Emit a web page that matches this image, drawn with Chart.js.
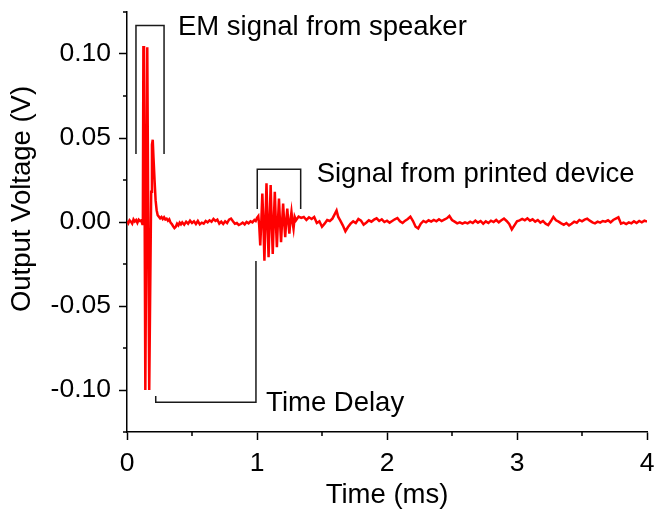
<!DOCTYPE html>
<html>
<head>
<meta charset="utf-8">
<script src="https://cdn.jsdelivr.net/npm/chart.js@4.4.0/dist/chart.umd.min.js"></script>
<style>
  html, body { margin: 0; padding: 0; background: #fff; }
  #wrap { width: 654px; height: 516px; }
</style>
</head>
<body>
<div id="wrap"><canvas id="chart" width="654" height="516"></canvas></div>
<script>
// axis ticks
const xTickLabels = [0, 1, 2, 3, 4];
const yTickLabels = [-0.10, -0.05, 0.00, 0.05, 0.10];
const xMinorTicks = [0.5, 1.5, 2.5, 3.5];
const yMinorTicks = [-0.125, -0.075, -0.025, 0.025, 0.075, 0.125];

// trace, time in ms / output in V
// before the trigger
const preTime = [0.000, 0.010, 0.020, 0.030, 0.040, 0.050, 0.060, 0.070, 0.080, 0.090, 0.100, 0.110, 0.118, 0.122];
const preVolt = [0.0005, -0.0008, 0.0010, 0.0002, -0.0010, 0.0015, 0.0003, 0.0012, -0.0005, 0.0014, 0.0006, 0.0010, -0.0012, 0.0005];

// EM pickup from the speaker (clipped)
const emTime = [0.126, 0.131, 0.141, 0.146, 0.156, 0.161, 0.171, 0.176, 0.186, 0.192, 0.198, 0.204, 0.212, 0.220, 0.228, 0.236, 0.245, 0.255, 0.265, 0.275, 0.285, 0.295, 0.305, 0.315, 0.325, 0.335];
const emVolt = [0.104, 0.104, -0.100, -0.100, 0.104, 0.104, -0.100, -0.100, 0.018, 0.046, 0.049, 0.038, 0.025, 0.013, 0.007, 0.004, 0.0032, 0.0022, 0.0030, 0.0018, 0.0028, 0.0015, 0.0020, 0.0008, 0.0016, -0.0004];

// quiet part until the acoustic wave arrives
const gapTime = [0.345, 0.355, 0.365, 0.375, 0.385, 0.395, 0.405, 0.415, 0.425, 0.440, 0.455, 0.470, 0.485, 0.500, 0.515, 0.530, 0.545, 0.560, 0.575, 0.590, 0.605, 0.620, 0.635, 0.650, 0.665, 0.680, 0.695, 0.710, 0.725, 0.740, 0.755, 0.770, 0.785, 0.800, 0.815, 0.830, 0.845, 0.860, 0.875, 0.890, 0.905, 0.920, 0.935, 0.950, 0.965, 0.980, 0.990, 1.000, 1.010, 1.017];
const gapVolt = [-0.0012, -0.0025, -0.0036, -0.0028, -0.0010, -0.0020, -0.0004, -0.0014, -0.0002, -0.0016, 0.0002, -0.0010, 0.0008, -0.0006, 0.0004, -0.0012, 0.0006, -0.0014, -0.0004, -0.0010, 0.0006, -0.0002, 0.0010, 0.0002, 0.0018, 0.0006, 0.0014, -0.0010, 0.0002, -0.0012, 0.0004, -0.0006, 0.0014, 0.0020, 0.0004, -0.0010, -0.0006, -0.0018, -0.0012, -0.0004, -0.0014, 0.0000, -0.0008, 0.0004, -0.0002, 0.0012, 0.0006, 0.0024, 0.0035, -0.0020];

// ringing from the printed device
const echoTime = [1.025, 1.033, 1.041, 1.049, 1.057, 1.065, 1.073, 1.081, 1.089, 1.097, 1.105, 1.113, 1.121, 1.129, 1.137, 1.145, 1.153, 1.161, 1.169, 1.177, 1.185, 1.193, 1.201, 1.209, 1.217, 1.225, 1.233, 1.241, 1.249, 1.257, 1.265, 1.273, 1.281, 1.290];
const echoVolt = [-0.014, 0.000, 0.017, 0.000, -0.023, 0.000, 0.023, 0.000, -0.021, 0.000, 0.022, 0.000, -0.019, 0.000, 0.018, 0.000, -0.015, 0.000, 0.014, 0.000, -0.012, 0.000, 0.011, 0.000, -0.009, 0.001, 0.008, 0.000, -0.007, 0.001, 0.006, 0.000, -0.004, 0.003];

// tail, noise only
const tail1Time = [1.300, 1.320, 1.340, 1.360, 1.380, 1.400, 1.420, 1.440, 1.460, 1.480, 1.500, 1.520, 1.540, 1.560, 1.580, 1.600, 1.612, 1.625, 1.640, 1.660, 1.680, 1.700, 1.720, 1.740, 1.760, 1.780, 1.800, 1.820, 1.840, 1.860, 1.880, 1.900, 1.920, 1.940, 1.960, 1.980, 2.000];
const tail1Volt = [0.0010, 0.0032, 0.0024, 0.0030, 0.0012, 0.0028, 0.0018, 0.0030, -0.0006, 0.0004, -0.0028, -0.0010, 0.0012, 0.0006, 0.0020, 0.0050, 0.0068, 0.0030, 0.0010, -0.0020, -0.0055, -0.0030, -0.0010, 0.0004, -0.0006, 0.0018, 0.0008, -0.0016, -0.0004, 0.0010, 0.0002, 0.0014, 0.0022, 0.0006, 0.0016, 0.0000, 0.0008];

const tail2Time = [2.020, 2.040, 2.060, 2.080, 2.100, 2.120, 2.140, 2.160, 2.180, 2.200, 2.220, 2.240, 2.260, 2.280, 2.300, 2.320, 2.340, 2.360, 2.380, 2.400, 2.420, 2.440, 2.460, 2.480, 2.500, 2.520, 2.540, 2.560, 2.580, 2.600, 2.620, 2.640, 2.660, 2.680, 2.700, 2.720, 2.740, 2.760, 2.780, 2.800, 2.820, 2.840, 2.860, 2.880, 2.900, 2.920, 2.940, 2.960, 2.980, 3.000];
const tail2Volt = [-0.0004, 0.0006, 0.0016, 0.0024, 0.0004, -0.0006, 0.0008, 0.0018, 0.0032, 0.0006, -0.0028, -0.0038, -0.0010, 0.0006, -0.0002, 0.0010, 0.0002, 0.0012, 0.0004, 0.0016, 0.0006, 0.0014, 0.0022, 0.0036, 0.0012, 0.0002, -0.0008, -0.0002, -0.0010, -0.0002, -0.0008, 0.0002, -0.0006, 0.0008, -0.0004, 0.0006, -0.0010, 0.0004, -0.0006, 0.0008, 0.0000, 0.0012, -0.0002, 0.0010, 0.0020, 0.0006, -0.0012, -0.0044, -0.0020, 0.0004];

const tail3Time = [3.020, 3.040, 3.060, 3.080, 3.100, 3.120, 3.140, 3.160, 3.180, 3.200, 3.220, 3.240, 3.260, 3.280, 3.300, 3.320, 3.340, 3.360, 3.380, 3.400, 3.420, 3.440, 3.460, 3.480, 3.500, 3.520, 3.540, 3.560, 3.580, 3.600, 3.620, 3.640, 3.660, 3.680, 3.700, 3.720, 3.740, 3.760, 3.780, 3.800, 3.820, 3.840, 3.860, 3.880, 3.900, 3.920, 3.940, 3.960, 3.980, 4.000];
const tail3Volt = [0.0010, 0.0018, 0.0010, 0.0022, 0.0008, 0.0016, 0.0002, 0.0012, -0.0004, 0.0006, -0.0010, -0.0018, 0.0004, 0.0030, 0.0010, 0.0002, -0.0008, -0.0016, -0.0006, -0.0020, -0.0010, 0.0002, -0.0004, 0.0012, 0.0004, 0.0014, 0.0020, 0.0008, -0.0002, -0.0008, 0.0002, -0.0004, 0.0006, 0.0002, 0.0010, -0.0002, 0.0012, 0.0020, 0.0028, -0.0010, -0.0004, -0.0012, -0.0002, -0.0008, 0.0004, -0.0006, 0.0006, -0.0002, 0.0008, 0.0002];

const segments = [
  [preTime, preVolt], [emTime, emVolt], [gapTime, gapVolt], [echoTime, echoVolt],
  [tail1Time, tail1Volt], [tail2Time, tail2Volt], [tail3Time, tail3Volt]
];
const trace = [];
segments.forEach(([t, v]) => {
  const n = Math.min(t.length, v.length);
  for (let i = 0; i < n; i++) trace.push({ x: t[i], y: v[i] });
});

// labels and brackets, anchored in data units
const notes = [
  { text: 'EM signal from speaker', x: 0.392, y: 0.1158,
    bracket: [[0.069, 0.0405], [0.069, 0.117], [0.285, 0.117], [0.285, 0.0405]] },
  { text: 'Signal from printed device', x: 1.459, y: 0.0285,
    bracket: [[1.002, 0.0078], [1.002, 0.0314], [1.336, 0.0314], [1.336, 0.0078]] },
  { text: 'Time Delay', x: 1.07, y: -0.1078,
    bracket: [[0.221, -0.1035], [0.221, -0.1073], [0.992, -0.1073], [0.992, -0.0232]] }
];
const yTitle = 'Output Voltage (V)';

const FONT = "'Liberation Sans', Arial, Helvetica, sans-serif";
const ink = '#000';

const extras = {
  id: 'extras',
  afterDraw(chart) {
    const { ctx, scales: { x, y } } = chart;
    ctx.save();
    ctx.strokeStyle = ink;
    ctx.lineWidth = 1.5;
    // minor ticks
    ctx.beginPath();
    xMinorTicks.forEach(v => {
      const px = x.getPixelForValue(v);
      ctx.moveTo(px, y.bottom);
      ctx.lineTo(px, y.bottom + 4);
    });
    yMinorTicks.forEach(v => {
      const py = y.getPixelForValue(v);
      ctx.moveTo(x.left - 4, py);
      ctx.lineTo(x.left, py);
    });
    ctx.stroke();

    // y title sits a bit above the plot centre in the original
    ctx.fillStyle = ink;
    ctx.font = '27.5px ' + FONT;
    ctx.textAlign = 'center';
    ctx.textBaseline = 'middle';
    ctx.save();
    ctx.translate(22, 199);
    ctx.rotate(-Math.PI / 2);
    ctx.fillText(yTitle, 0, 0);
    ctx.restore();

    // brackets + annotation text
    ctx.strokeStyle = '#1a1a1a';
    ctx.lineWidth = 1.5;
    ctx.textAlign = 'left';
    notes.forEach(n => {
      ctx.beginPath();
      n.bracket.forEach(([bx, by], i) => {
        const px = x.getPixelForValue(bx), py = y.getPixelForValue(by);
        if (i === 0) ctx.moveTo(px, py); else ctx.lineTo(px, py);
      });
      ctx.stroke();
      ctx.fillText(n.text, x.getPixelForValue(n.x), y.getPixelForValue(n.y));
    });
    ctx.restore();
  }
};

new Chart(document.getElementById('chart').getContext('2d'), {
  type: 'line',
  data: {
    datasets: [{
      data: trace,
      borderColor: '#ff0000',
      borderWidth: 2.5,
      pointRadius: 0,
      tension: 0,
      fill: false
    }]
  },
  options: {
    responsive: false,
    animation: false,
    layout: { padding: { top: 12, right: 7, bottom: 0, left: 0 } },
    plugins: { legend: { display: false }, tooltip: { enabled: false } },
    scales: {
      x: {
        type: 'linear',
        min: 0, max: 4,
        afterBuildTicks: s => { s.ticks = xTickLabels.map(v => ({ value: v })); },
        afterFit: s => { s.height = 84; s.paddingLeft = 0; s.paddingRight = 0; },
        ticks: { color: ink, font: { family: FONT, size: 26.5 }, padding: 8, maxRotation: 0, callback: v => String(v) },
        grid: { drawOnChartArea: false, drawTicks: true, tickLength: 8, tickWidth: 1.5, tickColor: ink },
        border: { display: true, color: ink, width: 1.5 },
        title: { display: true, text: 'Time (ms)', color: ink, font: { family: FONT, size: 27.5 }, padding: { top: 0, bottom: 4 } }
      },
      y: {
        type: 'linear',
        min: -0.125, max: 0.125,
        afterBuildTicks: s => { s.ticks = yTickLabels.map(v => ({ value: v })); },
        afterFit: s => { s.width = 127; s.paddingTop = 0; s.paddingBottom = 0; },
        ticks: { color: ink, font: { family: FONT, size: 26.5 }, padding: 8, callback: v => Number(v).toFixed(2) },
        grid: { drawOnChartArea: false, drawTicks: true, tickLength: 8, tickWidth: 1.5, tickColor: ink },
        border: { display: true, color: ink, width: 1.5 }
      }
    }
  },
  plugins: [extras]
});
</script>
</body>
</html>
